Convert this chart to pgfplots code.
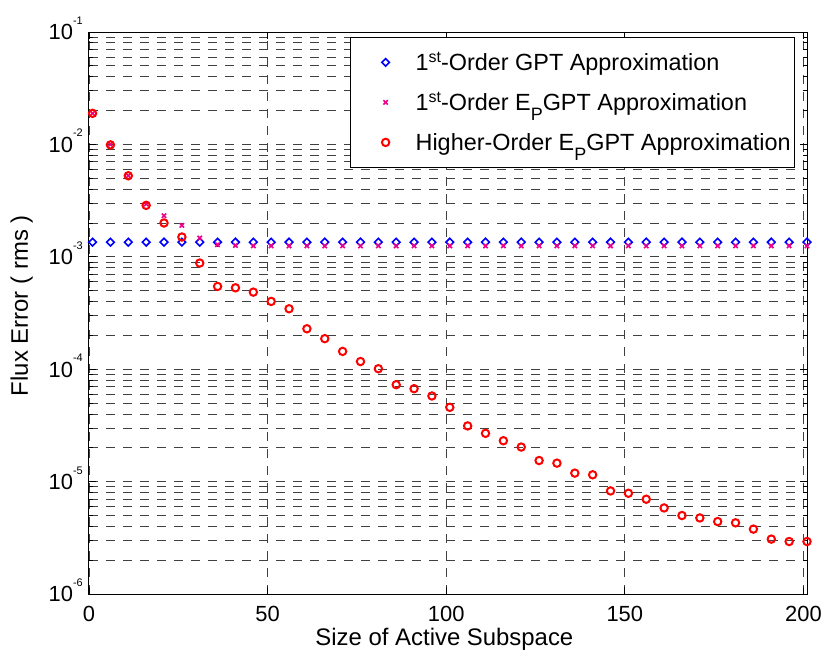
\documentclass[border=0pt]{standalone}
\usepackage{fontspec}
\setmainfont{Liberation Sans}
\usepackage{pgfplots}
\pgfplotsset{compat=1.18}
\newcommand\ytl[1]{10\raisebox{15.5bp}{\fontsize{11}{11}\selectfont -#1}}
\newcommand\st{\raisebox{0.33em}{\fontsize{16}{16}\selectfont st}}
\newcommand\EP{E\raisebox{-0.42em}{\fontsize{18}{18}\selectfont P}}
\begin{document}
\begin{tikzpicture}
\begin{axis}[
  scale only axis, width=718bp, height=562bp,
  xmin=0, xmax=201, ymode=log, ymin=1e-6, ymax=1e-1,
  xtick={0,50,100,150,200}, xticklabels={0,50,100,150,200},
  ytick={1e-6,1e-5,1e-4,1e-3,1e-2,1e-1},
  yticklabels={\ytl{6},\ytl{5},\ytl{4},\ytl{3},\ytl{2},\ytl{1}},
  tick align=inside, major tick length=7bp, minor tick length=4bp,
  every tick/.style={black, line width=0.8bp},
  axis line style={line width=1bp},
  grid=both,
  major grid style={black!75, line width=0.8bp, dash pattern=on 9bp off 8bp},
  minor grid style={black!75, line width=0.8bp, dash pattern=on 9bp off 8bp},
  tick label style={font=\fontsize{22}{26}\selectfont},
  xticklabel style={anchor=base, yshift=-27bp},
  yticklabel style={anchor=base east, yshift=-7.9bp, inner xsep=6bp},
  label style={font=\fontsize{24}{28}\selectfont},
  xlabel={Size of Active Subspace},
  ylabel={Flux Error ( rms )},
  xlabel style={at={(axis description cs:0.495,-0.0913)}, anchor=base},
  ylabel style={at={(axis description cs:-0.085,0.513)}, anchor=base},
  legend style={at={(0.9833,0.9911)}, anchor=north east, draw=black, line width=0.8bp, fill=white,
    font=\fontsize{23.5}{28}\selectfont, inner xsep=4bp, inner ysep=11bp, row sep=12bp,
    nodes={inner sep=0bp, text height=22bp, text depth=6bp}},
  legend cell align=left,
  legend image code/.code={\path[draw=none, fill=none] (-31bp,-1bp) rectangle (30bp,1bp); \draw[#1, only marks] plot coordinates {(0bp,0bp)};},
]
\addplot[only marks, blue, mark=square, mark size=2.7bp, line width=1.6bp, mark options={rotate=45}] coordinates {
(1,1.35e-3)(6,1.35e-3)(11,1.35e-3)(16,1.35e-3)(21,1.35e-3)(26,1.35e-3)(31,1.35e-3)(36,1.35e-3)(41,1.35e-3)(46,1.35e-3)
(51,1.35e-3)(56,1.35e-3)(61,1.35e-3)(66,1.35e-3)(71,1.35e-3)(76,1.35e-3)(81,1.35e-3)(86,1.35e-3)(91,1.35e-3)(96,1.35e-3)
(101,1.35e-3)(106,1.35e-3)(111,1.35e-3)(116,1.35e-3)(121,1.35e-3)(126,1.35e-3)(131,1.35e-3)(136,1.35e-3)(141,1.35e-3)(146,1.35e-3)
(151,1.35e-3)(156,1.35e-3)(161,1.35e-3)(166,1.35e-3)(171,1.35e-3)(176,1.35e-3)(181,1.35e-3)(186,1.35e-3)(191,1.35e-3)(196,1.35e-3)
(201,1.35e-3)};
\addlegendentry{1\st-Order GPT Approximation}
\addplot[only marks, magenta, mark=x, mark size=3.1bp, line width=1.6bp] coordinates {
(1,1.89e-2)(6,1.0e-2)(11,5.26e-3)(16,2.95e-3)(21,2.32e-3)(26,1.9e-3)(31,1.47e-3)(36,1.28e-3)(41,1.26e-3)(46,1.25e-3)
(51,1.25e-3)(56,1.25e-3)(61,1.25e-3)(66,1.25e-3)(71,1.25e-3)(76,1.25e-3)(81,1.25e-3)(86,1.25e-3)(91,1.25e-3)(96,1.25e-3)
(101,1.25e-3)(106,1.25e-3)(111,1.25e-3)(116,1.25e-3)(121,1.25e-3)(126,1.25e-3)(131,1.25e-3)(136,1.25e-3)(141,1.25e-3)(146,1.25e-3)
(151,1.25e-3)(156,1.25e-3)(161,1.25e-3)(166,1.25e-3)(171,1.25e-3)(176,1.25e-3)(181,1.25e-3)(186,1.25e-3)(191,1.25e-3)(196,1.25e-3)
(201,1.25e-3)};
\addlegendentry{1\st-Order \EP GPT Approximation}
\addplot[only marks, red, mark=o, mark size=3.7bp, line width=2bp] coordinates {
(1,1.89e-2)(6,9.9e-3)(11,5.26e-3)(16,2.87e-3)(21,2.0e-3)(26,1.5e-3)(31,8.8e-4)(36,5.45e-4)(41,5.3e-4)(46,4.85e-4)
(51,4.01e-4)(56,3.45e-4)(61,2.29e-4)(66,1.87e-4)(71,1.44e-4)(76,1.17e-4)(81,1.01e-4)(86,7.28e-5)(91,6.71e-5)(96,5.78e-5)
(101,4.58e-5)(106,3.13e-5)(111,2.69e-5)(116,2.31e-5)(121,2.03e-5)(126,1.54e-5)(131,1.46e-5)(136,1.19e-5)(141,1.15e-5)(146,8.26e-6)
(151,7.88e-6)(156,6.97e-6)(161,5.83e-6)(166,4.99e-6)(171,4.75e-6)(176,4.41e-6)(181,4.3e-6)(186,3.78e-6)(191,3.08e-6)(196,2.93e-6)
(201,2.93e-6)};
\addlegendentry{Higher-Order \EP GPT Approximation}
\end{axis}
\path (current axis.south west) ++(-89bp,-58bp);
\path (current axis.north east) ++(21bp,32bp);
\end{tikzpicture}
\end{document}
